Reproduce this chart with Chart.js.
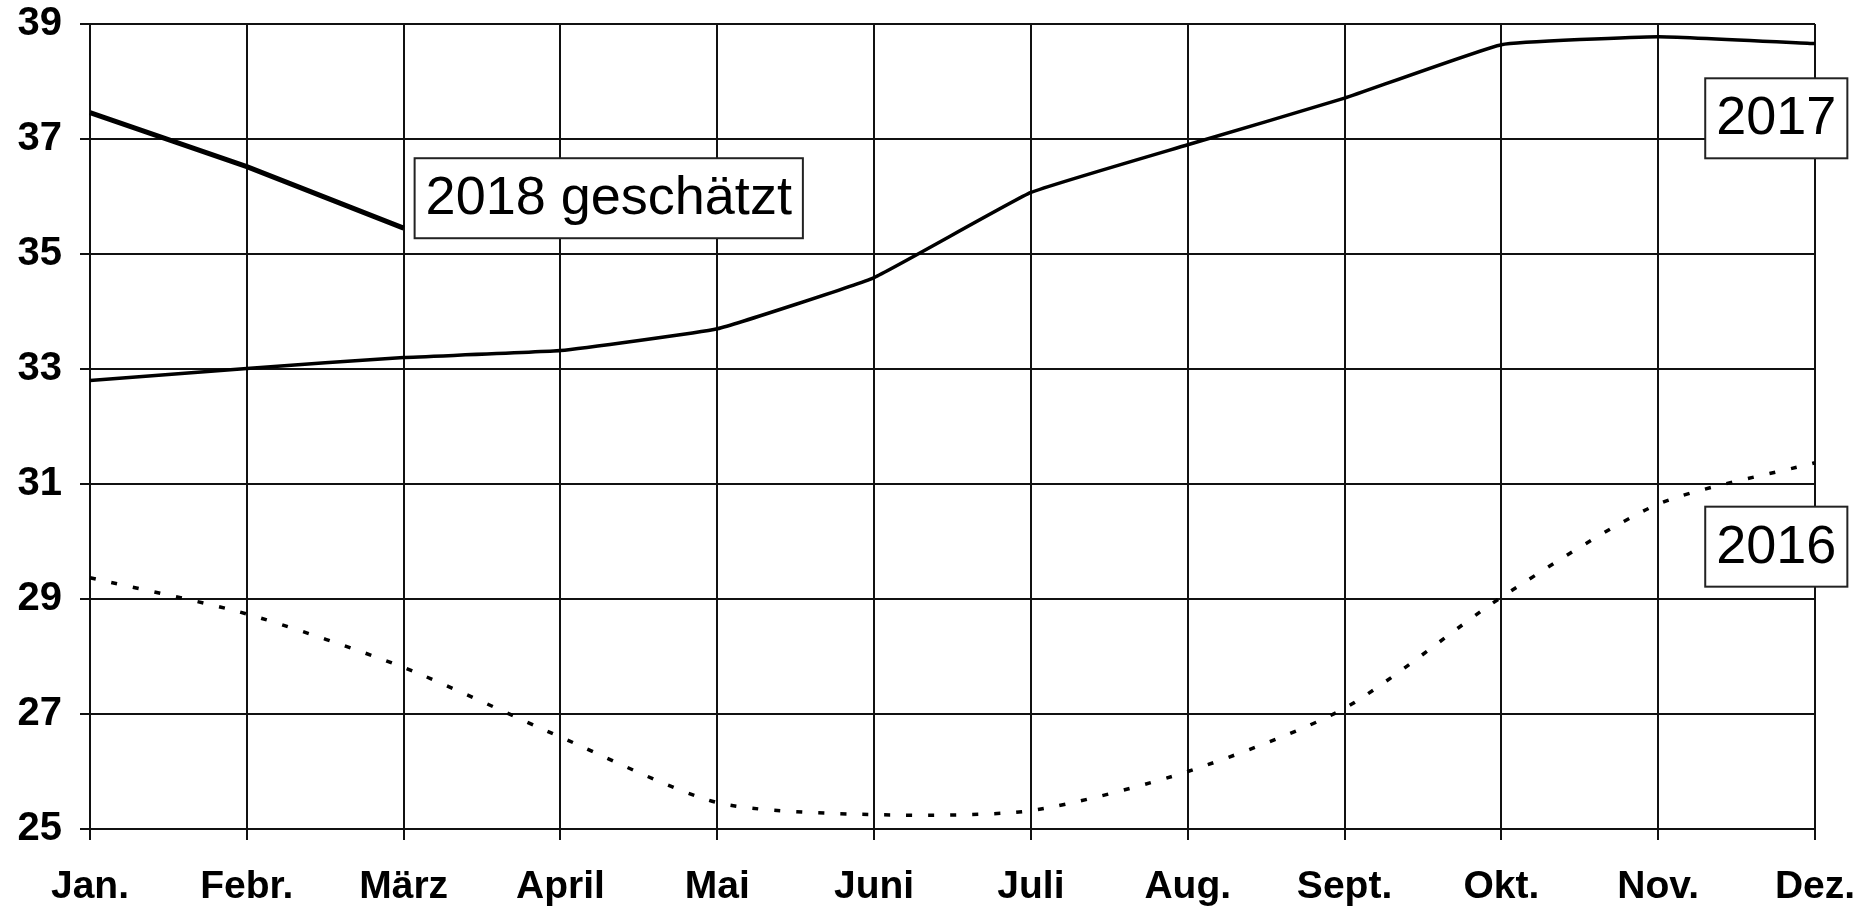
<!DOCTYPE html>
<html>
<head>
<meta charset="utf-8">
<script src="https://cdn.jsdelivr.net/npm/chart.js@4.4.1/dist/chart.umd.min.js"></script>
<style>
  html, body { margin: 0; padding: 0; background: #fff; }
  #wrap { width: 1871px; height: 906px; }
</style>
</head>
<body>
<div id="wrap"><canvas id="chart"></canvas></div>
<script>
// Monate und Werte
const months = ['Jan.', 'Febr.', 'März', 'April', 'Mai', 'Juni', 'Juli', 'Aug.', 'Sept.', 'Okt.', 'Nov.', 'Dez.'];
const values2016 = [29.37, 28.74, 27.81, 26.6, 25.46, 25.25, 25.32, 26.0, 27.1, 29.03, 30.65, 31.37];
const values2017 = [32.8, 33.01, 33.2, 33.32, 33.7, 34.59, 36.07, 36.9, 37.71, 38.64, 38.78, 38.66];
const values2018 = [37.46, 36.52, 35.45, null, null, null, null, null, null, null, null, null];

const yTicks = [25, 27, 29, 31, 33, 35, 37, 39];

// Beschriftungskästen, verankert in Datenkoordinaten (Index, Wert)
const boxLabels = [
  { text: '2018 geschätzt', idx: 2.07, val: 35.97 },
  { text: '2017', idx: 10.3, val: 37.36 },
  { text: '2016', idx: 10.3, val: 29.91 }
];

const labelBoxPlugin = {
  id: 'labelBoxes',
  afterDraw(chart) {
    const ctx = chart.ctx;
    const xs = chart.scales.x;
    const ys = chart.scales.y;
    ctx.save();
    ctx.font = '54px "Liberation Sans", Arial, sans-serif';
    ctx.textBaseline = 'middle';
    boxLabels.forEach(b => {
      const x0 = xs.getPixelForValue(0) + b.idx * (xs.getPixelForValue(1) - xs.getPixelForValue(0));
      const yc = ys.getPixelForValue(b.val);
      const w = ctx.measureText(b.text).width + 22;
      const h = 80;
      ctx.fillStyle = '#fff';
      ctx.fillRect(x0, yc - h / 2, w, h);
      ctx.lineWidth = 2;
      ctx.strokeStyle = '#222';
      ctx.strokeRect(x0, yc - h / 2, w, h);
      ctx.fillStyle = '#000';
      ctx.fillText(b.text, x0 + 11, yc + 1);
    });
    ctx.restore();
  }
};

const ctx = document.getElementById('chart').getContext('2d');
new Chart(ctx, {
  type: 'line',
  data: {
    labels: months,
    datasets: [
      {
        label: '2016',
        data: values2016,
        borderColor: '#000',
        borderWidth: 3.5,
        borderDash: [6, 16],
        tension: 0.25,
        pointRadius: 0
      },
      {
        label: '2017',
        data: values2017,
        borderColor: '#000',
        borderWidth: 3.5,
        tension: 0.1,
        pointRadius: 0
      },
      {
        label: '2018 geschätzt',
        data: values2018,
        borderColor: '#000',
        borderWidth: 5,
        tension: 0,
        pointRadius: 0
      }
    ]
  },
  options: {
    responsive: true,
    maintainAspectRatio: false,
    animation: false,
    layout: { padding: { top: 24, right: 56, left: 0, bottom: 0 } },
    plugins: {
      legend: { display: false },
      tooltip: { enabled: false }
    },
    scales: {
      x: {
        offset: false,
        afterFit(scale) {
          scale.height = 77;
          scale.paddingLeft = 0;
          scale.paddingRight = 0;
        },
        grid: { color: '#111', lineWidth: 2, tickLength: 11, drawTicks: true },
        border: { color: '#111', width: 2 },
        ticks: {
          color: '#000',
          maxRotation: 0,
          autoSkip: false,
          padding: 24,
          font: { family: '"Liberation Sans", Arial, sans-serif', size: 39, weight: 'bold' }
        }
      },
      y: {
        min: 25,
        max: 39,
        afterFit(scale) {
          scale.width = 90;
          scale.paddingTop = 0;
          scale.paddingBottom = 0;
        },
        afterBuildTicks(scale) { scale.ticks = yTicks.map(v => ({ value: v })); },
        grid: { color: '#111', lineWidth: 2, tickLength: 10, drawTicks: true },
        border: { color: '#111', width: 2 },
        ticks: {
          color: '#000',
          padding: 18,
          font: { family: '"Liberation Sans", Arial, sans-serif', size: 40, weight: 'bold' }
        }
      }
    }
  },
  plugins: [labelBoxPlugin]
});
</script>
</body>
</html>
